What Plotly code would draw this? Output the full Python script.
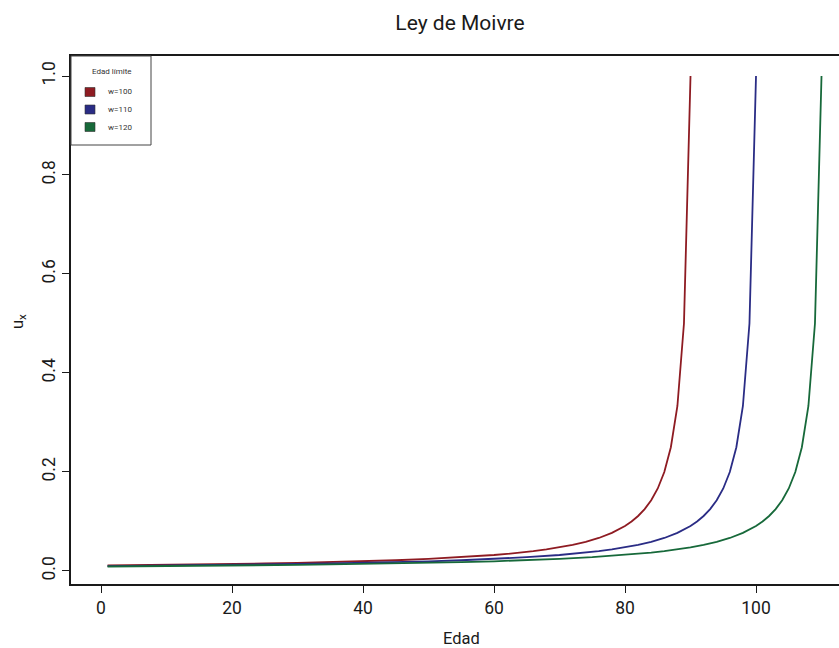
import plotly.graph_objects as go

# Ley de Moivre: fuerza de mortalidad u_x para tres edades límite
series_names = ["w=100", "w=110", "w=120"]
series_colors = ["#8E1B22", "#2A2C85", "#17693A"]

edad_100 = [1, 5, 10, 15, 20, 25, 30, 35, 40, 45, 50, 55, 60, 62, 64, 66, 68, 70,
            72, 74, 76, 78, 80, 81, 82, 83, 84, 85, 86, 87, 88, 89, 90]
ux_100 = [0.0111, 0.0116, 0.0123, 0.0132, 0.0141, 0.0152, 0.0164, 0.0179, 0.0196,
          0.0217, 0.0244, 0.0278, 0.0323, 0.0345, 0.0370, 0.0400, 0.0435, 0.0476,
          0.0526, 0.0588, 0.0667, 0.0769, 0.0909, 0.1000, 0.1111, 0.1250, 0.1429,
          0.1667, 0.2000, 0.2500, 0.3333, 0.5000, 1.0000]

edad_110 = [1, 5, 10, 15, 20, 25, 30, 35, 40, 45, 50, 55, 60, 65, 70, 72, 74, 76,
            78, 80, 82, 84, 86, 88, 90, 91, 92, 93, 94, 95, 96, 97, 98, 99, 100]
ux_110 = [0.0100, 0.0104, 0.0110, 0.0116, 0.0123, 0.0132, 0.0141, 0.0152, 0.0164,
          0.0179, 0.0196, 0.0217, 0.0244, 0.0278, 0.0323, 0.0345, 0.0370, 0.0400,
          0.0435, 0.0476, 0.0526, 0.0588, 0.0667, 0.0769, 0.0909, 0.1000, 0.1111,
          0.1250, 0.1429, 0.1667, 0.2000, 0.2500, 0.3333, 0.5000, 1.0000]

edad_120 = [1, 5, 10, 15, 20, 25, 30, 35, 40, 45, 50, 55, 60, 65, 70, 75, 80, 82,
            84, 86, 88, 90, 92, 94, 96, 98, 100, 101, 102, 103, 104, 105, 106, 107,
            108, 109, 110]
ux_120 = [0.0091, 0.0094, 0.0099, 0.0104, 0.0110, 0.0116, 0.0123, 0.0132, 0.0141,
          0.0152, 0.0164, 0.0179, 0.0196, 0.0217, 0.0244, 0.0278, 0.0323, 0.0345,
          0.0370, 0.0400, 0.0435, 0.0476, 0.0526, 0.0588, 0.0667, 0.0769, 0.0909,
          0.1000, 0.1111, 0.1250, 0.1429, 0.1667, 0.2000, 0.2500, 0.3333, 0.5000,
          1.0000]

x_ticks = [0, 20, 40, 60, 80, 100]
y_ticks = [0.0, 0.2, 0.4, 0.6, 0.8, 1.0]
y_tick_text = ["0.0", "0.2", "0.4", "0.6", "0.8", "1.0"]

FONT = "Roboto, Liberation Sans, Arial, sans-serif"
INK = "#1a1a1a"

fig = go.Figure()
for name, color, xs, ys in zip(series_names, series_colors,
                               [edad_100, edad_110, edad_120],
                               [ux_100, ux_110, ux_120]):
    fig.add_trace(go.Scatter(x=xs, y=ys, mode="lines", name=name,
                             line=dict(color=color, width=1.8),
                             showlegend=False))

W, H = 839, 648
L, R, T, B = 71, 0, 56, 64
pw, ph = W - L - R, H - T - B

def px_to_paper(px, py):
    return (px - L) / pw, 1 - (py - T) / ph

# Legend box drawn in the top-left corner of the plotting region
shapes = []
annotations = []
bx0, by0 = px_to_paper(71, 56)
bx1, by1 = px_to_paper(151, 145)
shapes.append(dict(type="rect", xref="paper", yref="paper", x0=bx0, y0=by1,
                   x1=bx1, y1=by0, line=dict(color="#444444", width=1),
                   fillcolor="white", layer="above"))
tx, ty = px_to_paper(112, 71)
annotations.append(dict(text="Edad límite", xref="paper", yref="paper", x=tx, y=ty,
                        showarrow=False, xanchor="center", yanchor="middle",
                        font=dict(family=FONT, size=8, color="#333333")))
for i, (name, color) in enumerate(zip(series_names, series_colors)):
    cy = 92 + i * 17.5
    sx0, sy0 = px_to_paper(85, cy - 4.5)
    sx1, sy1 = px_to_paper(95, cy + 4.5)
    shapes.append(dict(type="rect", xref="paper", yref="paper", x0=sx0, y0=sy1,
                       x1=sx1, y1=sy0, fillcolor=color,
                       line=dict(color="#333333", width=0.6), layer="above"))
    lx, ly = px_to_paper(106, cy)
    annotations.append(dict(text=name, xref="paper", yref="paper", x=lx, y=ly,
                            showarrow=False, xanchor="left", yanchor="middle",
                            font=dict(family=FONT, size=8, color="#333333")))

# Axis titles
annotations.append(dict(text="Edad", xref="paper", yref="paper",
                        x=px_to_paper(461, 0)[0], y=px_to_paper(0, 638)[1],
                        showarrow=False, xanchor="center", yanchor="middle",
                        font=dict(family=FONT, size=16.5, color=INK)))
annotations.append(dict(text="u<sub>x</sub>", xref="paper", yref="paper",
                        x=px_to_paper(18, 0)[0], y=px_to_paper(0, 322)[1],
                        showarrow=False, xanchor="center", yanchor="middle",
                        textangle=-90,
                        font=dict(family=FONT, size=16.5, color=INK)))

tickfont = dict(family=FONT, size=17.5, color=INK)
fig.update_layout(
    width=W, height=H,
    margin=dict(l=L, r=R, t=T, b=B, pad=0),
    paper_bgcolor="white", plot_bgcolor="white",
    title=dict(text="Ley de Moivre", x=460 / W, xref="container", xanchor="center",
               y=1 - 23 / H, yref="container", yanchor="middle",
               font=dict(family=FONT, size=21, color=INK)),
    font=dict(family=FONT, color=INK),
    shapes=shapes, annotations=annotations,
    xaxis=dict(range=[-4.58, 112.67], tickvals=x_ticks, showgrid=False,
               zeroline=False, showline=True, linecolor=INK, linewidth=1.5,
               mirror=True, ticks="outside", ticklen=7, tickwidth=1,
               tickcolor=INK, tickfont=tickfont),
    yaxis=dict(range=[-0.0263, 1.0404], tickvals=y_ticks, ticktext=y_tick_text,
               showgrid=False, zeroline=False, showline=True, linecolor=INK,
               linewidth=1.5, ticks="outside", ticklen=7, tickwidth=1,
               tickcolor=INK, tickangle=-90, tickfont=tickfont),
)

fig.write_html("out.html")
